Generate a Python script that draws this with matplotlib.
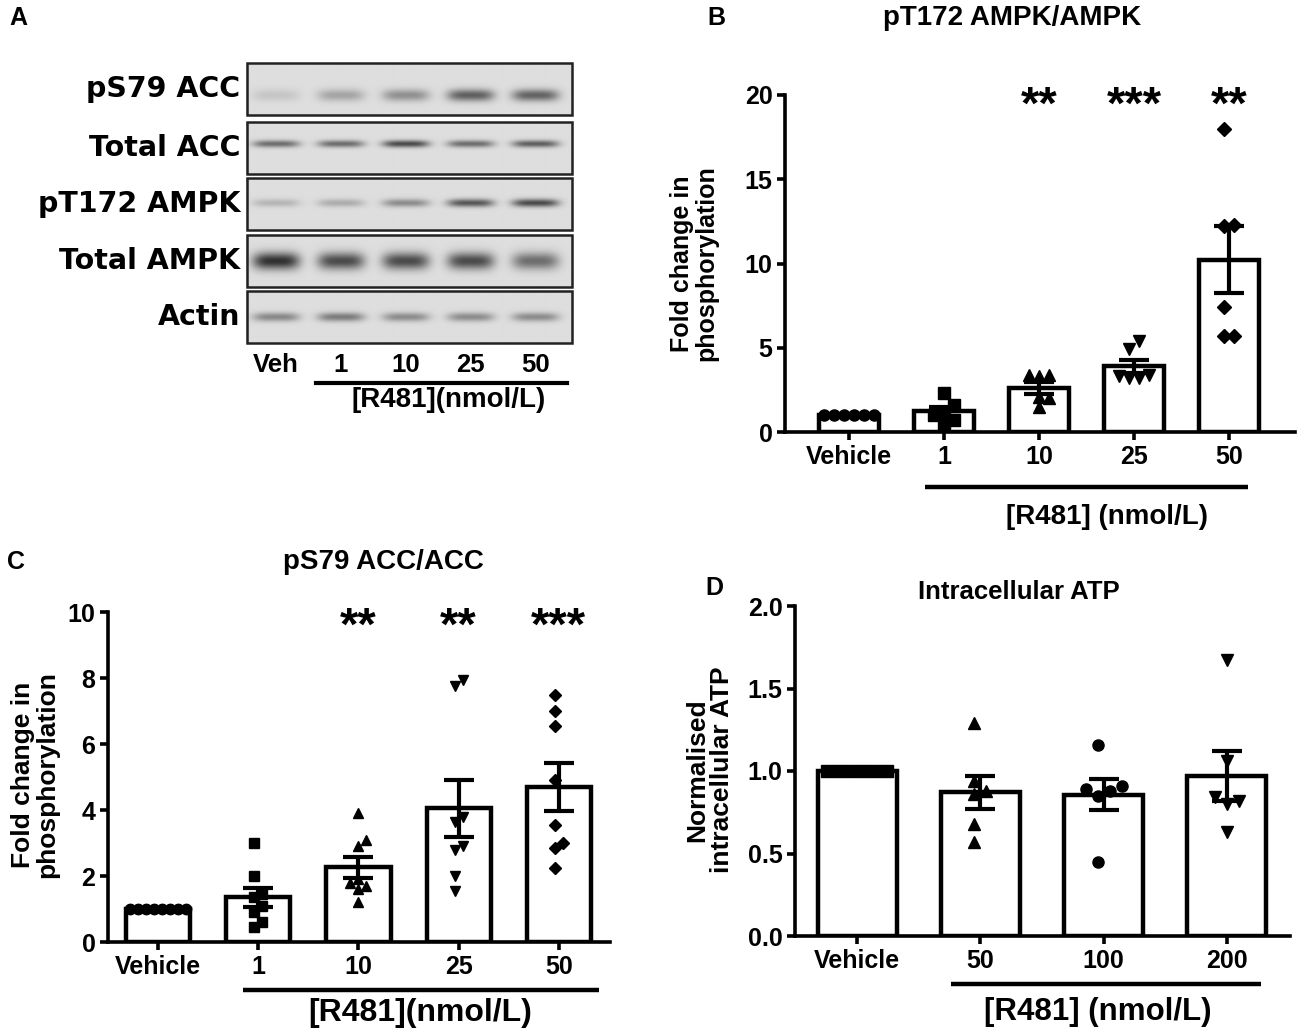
import numpy as np
import matplotlib
matplotlib.use('Agg')
import matplotlib.pyplot as plt
from matplotlib.patches import Rectangle

plt.rcParams['font.family'] = ['Liberation Sans', 'DejaVu Sans']
plt.rcParams['font.weight'] = 'bold'

W, H = 1297, 1034

# ---------------- data ----------------
# panel A: western blot, relative band darkness per lane
blot_rows = ['pS79 ACC', 'Total ACC', 'pT172 AMPK', 'Total AMPK', 'Actin']
blot_lanes = ['Veh', '1', '10', '25', '50']
band_ps79_acc = [0.12, 0.28, 0.38, 0.62, 0.60]
band_total_acc = [0.55, 0.55, 0.72, 0.55, 0.62]
band_pt172_ampk = [0.20, 0.24, 0.40, 0.66, 0.72]
band_total_ampk = [0.85, 0.72, 0.72, 0.72, 0.55]
band_actin = [0.42, 0.48, 0.40, 0.40, 0.40]

# panel B: pT172 AMPK/AMPK
ampk_groups = ['Vehicle', '1', '10', '25', '50']
ampk_vehicle = [1.0, 1.0, 1.0, 1.0, 1.0, 1.0]
ampk_1 = [0.5, 1.6, 2.3, 1.0, 0.7, 1.2]
ampk_10 = [1.5, 3.4, 2.1, 3.3, 2.0, 3.4]
ampk_25 = [5.4, 4.9, 3.4, 3.2, 3.2, 3.3]
ampk_50 = [18.0, 12.3, 12.2, 7.4, 5.7, 5.7]
ampk_stars = ['', '', '**', '***', '**']

# panel C: pS79 ACC/ACC
acc_groups = ['Vehicle', '1', '10', '25', '50']
acc_vehicle = [1.0, 1.0, 1.0, 1.0, 1.0, 1.0, 1.0, 1.0]
acc_1 = [3.0, 2.0, 1.45, 1.35, 1.1, 0.9, 0.6, 0.45]
acc_10 = [3.9, 3.1, 2.9, 1.9, 1.8, 1.7, 1.6, 1.2]
acc_25 = [7.95, 7.75, 3.8, 3.65, 2.9, 2.8, 2.0, 1.55]
acc_50 = [7.5, 7.0, 6.55, 4.9, 3.55, 3.0, 2.85, 2.25]
acc_stars = ['', '', '**', '**', '***']

# panel D: intracellular ATP
atp_groups = ['Vehicle', '50', '100', '200']
atp_vehicle = [1.0, 1.0, 1.0, 1.0, 1.0, 1.0]
atp_50 = [1.29, 0.94, 0.88, 0.86, 0.68, 0.57]
atp_100 = [1.16, 0.91, 0.89, 0.88, 0.85, 0.45]
atp_200 = [1.67, 1.06, 0.84, 0.82, 0.80, 0.63]


def px_axes(fig, left, top, right, bottom):
    return fig.add_axes([left / W, 1 - bottom / H, (right - left) / W, (bottom - top) / H])


def swarm(ax, xc, vals, pitch):
    # spread overlapping points sideways (pixel space)
    pts = ax.transData.transform(np.column_stack([np.full(len(vals), xc), vals]))
    ppu = ax.transData.transform((1, 0))[0] - ax.transData.transform((0, 0))[0]
    order = np.argsort(vals)
    offs = np.zeros(len(vals))
    placed = []
    for idx in order:
        y = pts[idx, 1]
        cands = [0.0]
        for j in range(1, 30):
            cands += [j * pitch / 2, -j * pitch / 2]
        for c in cands:
            if all((c - px) ** 2 + (y - py) ** 2 >= pitch ** 2 for px, py in placed):
                break
        placed.append((c, y))
        offs[idx] = c
    offs -= (offs.max() + offs.min()) / 2
    return xc + offs / ppu


def bar_panel(ax, groups, data, markers, ms, pitch):
    for i, (vals, m) in enumerate(zip(data, markers)):
        vals = np.asarray(vals, dtype=float)
        mean = vals.mean()
        sem = vals.std(ddof=1) / np.sqrt(len(vals))
        ax.bar(i, mean, width=0.64, color='white', edgecolor='black',
               linewidth=3.2, zorder=1)
        xs = swarm(ax, i, vals, pitch)
        size = ms * 0.85 if m == 'D' else ms
        ax.plot(xs, vals, linestyle='none', marker=m, color='black',
                markersize=size, zorder=2, clip_on=False)
        if sem > 0:
            ax.errorbar(i, mean, yerr=sem, fmt='none', ecolor='black',
                        elinewidth=3, capsize=11, capthick=3, zorder=3)
    ax.set_xticks(range(len(groups)))
    ax.set_xticklabels(groups)
    for s in ['top', 'right']:
        ax.spines[s].set_visible(False)
    for s in ['left', 'bottom']:
        ax.spines[s].set_linewidth(2.6)
    ax.tick_params(direction='out', length=6, width=2.6, labelsize=18, pad=3)


def stars(ax, marks, level, size=34):
    for i, s in enumerate(marks):
        if s:
            ax.annotate(s, xy=(i, level), xytext=(0, -0.45 * size),
                        textcoords='offset points', ha='center', va='baseline',
                        fontsize=size, fontweight='bold')


def bracket(ax, x0, x1, y_line, y_text, xt, text, size):
    tr = ax.get_xaxis_transform()
    ax.plot([x0, x1], [y_line, y_line], color='black', linewidth=3.2,
            transform=tr, clip_on=False, solid_capstyle='butt')
    ax.text(xt, y_text, text, transform=tr, ha='center', va='center',
            fontsize=size, fontweight='bold')


fig = plt.figure(figsize=(W / 100, H / 100), dpi=100)

# ---------------- panel A ----------------
axa = px_axes(fig, 246, 60, 573, 345)
axa.set_xlim(-0.46, 4.57)
axa.set_ylim(285, 0)
axa.axis('off')
bands = [band_ps79_acc, band_total_acc, band_pt172_ampk, band_total_ampk, band_actin]
row_tops = [3, 62, 118, 175, 231]
row_h = 52
band_pos = [0.62, 0.42, 0.48, 0.5, 0.5]
band_sy = [6.0, 3.6, 4.0, 8.5, 4.5]
xg = np.linspace(-0.46, 4.57, 330)
yg = np.arange(row_h) + 0.5
X, Y = np.meshgrid(xg, yg)
for r, (top, inten) in enumerate(zip(row_tops, bands)):
    img = np.full(X.shape, 0.87)
    yc = band_pos[r] * row_h
    for lane, a in enumerate(inten):
        prof_x = np.exp(-np.abs((X - lane) / 0.36) ** 4)
        prof_y = np.exp(-((Y - yc) / band_sy[r]) ** 2)
        img -= 0.8 * a * prof_x * prof_y
    axa.imshow(img, cmap='gray', vmin=0, vmax=1, aspect='auto',
               extent=(-0.46, 4.57, top + row_h, top), interpolation='bilinear')
    axa.add_patch(Rectangle((-0.44, top), 4.99, row_h, fill=False,
                            edgecolor='#222222', linewidth=1.8, clip_on=False))
    axa.text(-0.55, top + row_h / 2, blot_rows[r], ha='right', va='center',
             fontsize=20.5, fontweight='bold', family=['DejaVu Sans'])
for i, lab in enumerate(blot_lanes):
    axa.text(i, 305, lab, ha='center', va='center', fontsize=18.5, fontweight='bold')
axa.plot([0.62, 4.48], [323, 323], color='black', linewidth=3, clip_on=False)
axa.text(2.66, 340, '[R481](nmol/L)', ha='center', va='center', fontsize=20,
         fontweight='bold')
axa.set_ylim(285, 0)

# ---------------- panel B ----------------
axb = px_axes(fig, 785, 95, 1295, 432)
axb.set_xlim(-0.674, 4.695)
axb.set_ylim(0, 20)
axb.set_yticks([0, 5, 10, 15, 20])
bar_panel(axb, ampk_groups, [ampk_vehicle, ampk_1, ampk_10, ampk_25, ampk_50],
          ['o', 's', '^', 'v', 'D'], ms=8, pitch=10)
stars(axb, ampk_stars, 19.85)
bracket(axb, 0.8, 4.2, -0.163, -0.252, 2.72, '[R481] (nmol/L)', 20)
axb.text(-0.178, 0.5, 'Fold change in\nphosphorylation', transform=axb.transAxes,
         rotation=90, ha='center', va='center', fontsize=18, fontweight='bold',
         linespacing=1.05)

# ---------------- panel C ----------------
axc = px_axes(fig, 108, 612, 610, 942)
axc.set_xlim(-0.5, 4.51)
axc.set_ylim(0, 10)
axc.set_yticks([0, 2, 4, 6, 8, 10])
bar_panel(axc, acc_groups, [acc_vehicle, acc_1, acc_10, acc_25, acc_50],
          ['o', 's', '^', 'v', 'D'], ms=7.5, pitch=8)
stars(axc, acc_stars, 9.8, size=34)
bracket(axc, 0.85, 4.4, -0.145, -0.215, 2.62, '[R481](nmol/L)', 23)
axc.text(-0.145, 0.506, 'Fold change in\nphosphorylation', transform=axc.transAxes,
         rotation=90, ha='center', va='center', fontsize=19, fontweight='bold',
         linespacing=1.05)

# ---------------- panel D ----------------
axd = px_axes(fig, 795, 606, 1290, 936)
axd.set_xlim(-0.504, 3.512)
axd.set_ylim(0, 2)
axd.set_yticks([0, 0.5, 1.0, 1.5, 2.0])
axd.yaxis.set_major_formatter(matplotlib.ticker.FormatStrFormatter('%.1f'))
bar_panel(axd, atp_groups, [atp_vehicle, atp_50, atp_100, atp_200],
          ['s', '^', 'o', 'v'], ms=8, pitch=12)
bracket(axd, 0.76, 3.28, -0.145, -0.23, 1.95, '[R481] (nmol/L)', 22.5)
axd.text(-0.172, 0.503, 'Normalised\nintracellular ATP', transform=axd.transAxes,
         rotation=90, ha='center', va='center', fontsize=19, fontweight='bold',
         linespacing=1.05)

# titles and panel letters
fig.text(1012 / W, 1 - 18 / H, 'pT172 AMPK/AMPK', ha='center', va='center', fontsize=20)
fig.text(383 / W, 1 - 562 / H, 'pS79 ACC/ACC', ha='center', va='center', fontsize=20)
fig.text(1019 / W, 1 - 592 / H, 'Intracellular ATP', ha='center', va='center', fontsize=18.5)
for letter, x, y in [('A', 18, 18), ('B', 716, 18), ('C', 16, 562), ('D', 714, 588)]:
    fig.text(x / W, 1 - y / H, letter, ha='center', va='center', fontsize=18)

fig.savefig('out.png', dpi=100)
